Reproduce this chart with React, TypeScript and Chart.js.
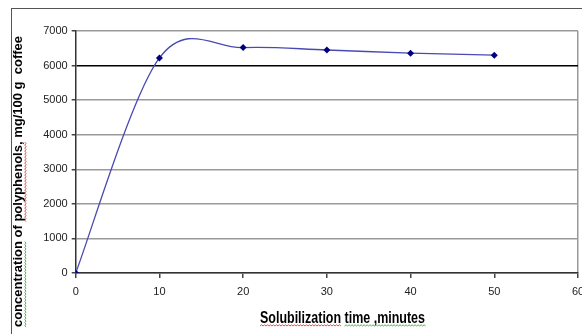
import React, { useEffect, useRef } from "react";
import { Chart, registerables } from "chart.js";

Chart.register(...registerables);

const times = [0, 10, 20, 30, 40, 50];
const polyphenols = [0, 6220, 6520, 6450, 6360, 6300];
const xTitle = "Solubilization time ,minutes";
const yTitle = "concentration of polyphenols, mg/100 g  coffee";

function squiggle(ctx: CanvasRenderingContext2D, x0: number, x1: number, y: number, color: string) {
  ctx.save();
  ctx.strokeStyle = color;
  ctx.lineWidth = 1;
  ctx.beginPath();
  let up = true;
  ctx.moveTo(x0, y);
  for (let x = x0 + 1.5; x <= x1; x += 1.5) {
    ctx.lineTo(x, up ? y - 1.2 : y);
    up = !up;
  }
  ctx.stroke();
  ctx.restore();
}

// Excel-like smoothing (Catmull-Rom style control points)
const smoothPlugin = {
  id: "excelSmooth",
  beforeDatasetsDraw(chart: any) {
    chart.data.datasets.forEach((_: any, di: number) => {
      const meta = chart.getDatasetMeta(di);
      if (meta.dataset && meta.dataset.updateControlPoints) {
        meta.dataset.updateControlPoints(chart.chartArea, "x");
      }
      const pts = meta.data;
      const n = pts.length;
      for (let i = 0; i < n; i++) {
        const prev = pts[Math.max(i - 1, 0)];
        const next = pts[Math.min(i + 1, n - 1)];
        const dx = (next.x - prev.x) / 6;
        const dy = (next.y - prev.y) / 6;
        pts[i].cp1x = pts[i].x - dx;
        pts[i].cp1y = pts[i].y - dy;
        pts[i].cp2x = pts[i].x + dx;
        pts[i].cp2y = pts[i].y + dy;
      }
      if (meta.dataset) meta.dataset._path = undefined;
    });
  },
};

const titlesPlugin = {
  id: "titles",
  afterDraw(chart: any) {
    const ctx: CanvasRenderingContext2D = chart.ctx;
    ctx.save();
    ctx.fillStyle = "#000";
    ctx.textBaseline = "alphabetic";
    ctx.textAlign = "left";
    // x title (condensed bold)
    ctx.font = "bold 16px 'Liberation Sans', Arial";
    const xwRaw = ctx.measureText(xTitle).width;
    const targetW = 165;
    const sx = targetW / xwRaw;
    const xStart = 260;
    ctx.save();
    ctx.translate(xStart, 0);
    ctx.scale(sx, 1);
    ctx.fillText(xTitle, 0, 323);
    ctx.restore();
    const w1 = ctx.measureText("Solubilization").width * sx;
    const w2 = ctx.measureText("Solubilization ").width * sx;
    squiggle(ctx, xStart, xStart + w1, 326, "#e05050");
    squiggle(ctx, xStart + w2, xStart + targetW + 2, 326, "#50b050");
    // y title
    ctx.save();
    ctx.translate(22, 181.5);
    ctx.rotate(-Math.PI / 2);
    ctx.font = "bold 13px 'Liberation Sans', Arial";
    const yw = ctx.measureText(yTitle).width;
    const ys = -yw / 2;
    ctx.fillText(yTitle, ys, 0);
    const a = ctx.measureText("concentration").width;
    const b = ctx.measureText("concentration of ").width;
    const c = ctx.measureText("concentration of polyphenols,").width;
    squiggle(ctx, ys, ys + a, 4, "#50b050");
    squiggle(ctx, ys + b, ys + c, 4, "#e05050");
    ctx.restore();
    ctx.restore();
  },
};

export default function App() {
  const ref = useRef<HTMLCanvasElement>(null);
  useEffect(() => {
    if (!ref.current) return;
    const chart = new Chart(ref.current, {
      type: "line",
      data: {
        datasets: [
          {
            data: times.map((t, i) => ({ x: t, y: polyphenols[i] })),
            borderColor: "#4a4ab4",
            borderWidth: 1.3,
            tension: 0.4,
            pointStyle: "rectRot",
            pointRadius: 3.5,
            pointBackgroundColor: "#000080",
            pointBorderColor: "#000080",
            pointBorderWidth: 0,
            fill: false,
          },
        ],
      },
      plugins: [smoothPlugin, titlesPlugin],
      options: {
        responsive: false,
        animation: false,
        devicePixelRatio: 1,
        elements: { line: { capBezierPoints: false } },
        layout: { padding: { left: 0, right: 3.5, top: 31, bottom: 0 } },
        plugins: { legend: { display: false }, tooltip: { enabled: false } },
        scales: {
          x: {
            type: "linear",
            min: 0,
            max: 60,
            afterFit(scale: any) {
              scale.height = 61;
              scale.paddingRight = 0;
            },
            ticks: {
              stepSize: 10,
              color: "#222",
              font: { family: "'Liberation Sans', Arial", size: 11 },
              padding: 7,
              callback: (v: any) => String(v),
            },
            grid: {
              color: (c: any) => (c.tick && c.tick.value === 60 ? "#9a9a9a" : "rgba(0,0,0,0)"),
              lineWidth: 1.5,
              tickColor: "#444",
              tickLength: 5,
            },
            border: { color: "#333", width: 1.5 },
          },
          y: {
            min: 0,
            max: 7000,
            afterFit(scale: any) {
              scale.width = 75.7;
            },
            ticks: {
              stepSize: 1000,
              color: "#222",
              font: { family: "'Liberation Sans', Arial", size: 11 },
              padding: 4,
              callback: (v: any) => String(v),
            },
            grid: {
              color: (c: any) => (c.tick && c.tick.value === 6000 ? "#000" : "#9a9a9a"),
              lineWidth: 1.5,
              tickColor: "#444",
              tickLength: 4,
            },
            border: { color: "#333", width: 1.5 },
          },
        },
      },
    });
    return () => chart.destroy();
  }, []);
  return (
    <div style={{ position: "fixed", left: 0, top: 0, width: 582, height: 334, background: "#fff" }}>
      <div
        style={{
          position: "absolute",
          left: 11,
          top: 8,
          width: 600,
          height: 400,
          borderLeft: "1.5px solid #555",
          borderTop: "1.5px solid #555",
        }}
      />
      <canvas ref={ref} width={582} height={334} style={{ position: "absolute", left: 0, top: 0 }} />
    </div>
  );
}
